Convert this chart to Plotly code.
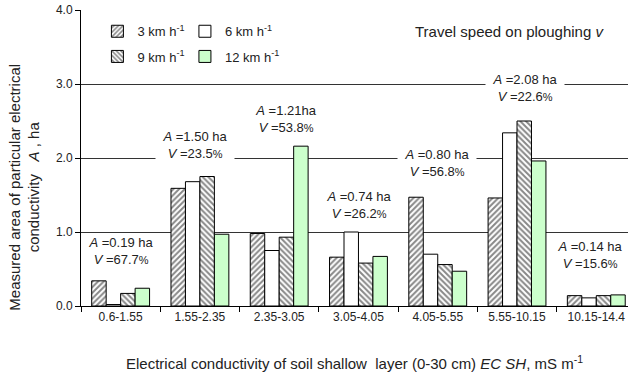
import plotly.graph_objects as go

categories = ["0.6-1.55", "1.55-2.35", "2.35-3.05", "3.05-4.05", "4.05-5.55", "5.55-10.15", "10.15-14.4"]
speed_3 = [0.34, 1.59, 0.98, 0.66, 1.47, 1.46, 0.14]
speed_6 = [0.02, 1.68, 0.75, 1.00, 0.70, 2.34, 0.11]
speed_9 = [0.17, 1.75, 0.93, 0.58, 0.56, 2.50, 0.14]
speed_12 = [0.24, 0.97, 2.16, 0.67, 0.47, 1.96, 0.15]
area_labels = ["0.19 ha", "1.50 ha", "1.21ha", "0.74 ha", "0.80 ha", "2.08 ha", "0.14 ha"]
cv_labels = ["67.7", "23.5", "53.8", "26.2", "56.8", "22.6", "15.6"]
label_y = [0.74, 2.17, 2.53, 1.37, 1.93, 2.94, 0.69]
label_shift = [0, -5, 7, 1, -1, 8, -6]

FONT = "Liberation Sans, Arial, sans-serif"
TXT = "#222"
fig = go.Figure()

series = [
    ("3 km h<sup>-1</sup>", speed_3, dict(color="white", pattern=dict(shape="/", size=4, solidity=0.5, fgcolor="#111", bgcolor="white")), "legend"),
    ("6 km h<sup>-1</sup>", speed_6, dict(color="white"), "legend2"),
    ("9 km h<sup>-1</sup>", speed_9, dict(color="white", pattern=dict(shape="\\", size=4, solidity=0.5, fgcolor="#111", bgcolor="white")), "legend3"),
    ("12 km h<sup>-1</sup>", speed_12, dict(color="#ccffcc"), "legend4"),
]
for name, vals, mk, lg in series:
    mk = dict(mk)
    mk["line"] = dict(color="black", width=1)
    fig.add_trace(go.Bar(x=categories, y=vals, name=name, marker=mk, legend=lg))

for i, cat in enumerate(categories):
    fig.add_annotation(
        x=cat, y=label_y[i], xref="x", yref="y", xshift=label_shift[i],
        text=f"<i>A</i> ={area_labels[i]}<br><i>V</i> ={cv_labels[i]}<span style='font-size:11px'>%</span>",
        showarrow=False, bgcolor="white", width=78, borderpad=0,
        font=dict(family=FONT, size=13, color=TXT), align="center", yanchor="middle",
    )

fig.add_annotation(x=0.96, y=0.926, xref="paper", yref="paper", xanchor="right", yanchor="middle",
                   text="Travel speed on ploughing <i>v</i>", showarrow=False,
                   font=dict(family=FONT, size=15, color=TXT))

# y-axis title (placed as rotated text so it can sit where the reference shows it)
fig.add_annotation(x=-0.104, y=0.4, xref="paper", yref="paper", xanchor="center", yanchor="middle",
                   text="Measured area of particular electrical<br>conductivity   <i>A</i> , ha",
                   textangle=-90, showarrow=False, font=dict(family=FONT, size=15, color=TXT))

leg_common = dict(orientation="v", bgcolor="rgba(0,0,0,0)", font=dict(family=FONT, size=13, color=TXT),
                  xanchor="left", yanchor="middle", itemwidth=30, tracegroupgap=0)
fig.update_layout(
    width=628, height=375,
    margin=dict(l=81, r=0, t=10, b=69),
    paper_bgcolor="white", plot_bgcolor="white",
    barmode="group", bargap=0.27, bargroupgap=0,
    font=dict(family=FONT, size=12, color=TXT),
    showlegend=True,
    legend=dict(leg_common, x=0.03, y=0.928),
    legend2=dict(leg_common, x=0.19, y=0.928),
    legend3=dict(leg_common, x=0.03, y=0.843),
    legend4=dict(leg_common, x=0.19, y=0.843),
    xaxis=dict(
        type="category", range=[-0.5, 6.4], tickson="boundaries", ticks="outside", ticklen=5,
        tickcolor="black", showline=True, linecolor="black", linewidth=1, showgrid=False,
        tickfont=dict(family=FONT, size=12, color=TXT),
        title=dict(text="Electrical conductivity of soil shallow  layer (0-30 cm) <i>EC SH</i>, mS m<sup>-1</sup>",
                   font=dict(family=FONT, size=15, color=TXT), standoff=35),
    ),
    yaxis=dict(
        range=[0, 4], dtick=1, tickformat=".1f", ticks="outside", ticklen=5, tickcolor="black",
        showline=True, linecolor="black", linewidth=1, showgrid=True, gridcolor="#333", gridwidth=1,
        zeroline=False, tickfont=dict(family=FONT, size=12, color=TXT),
    ),
)
fig.write_html("out.html")
